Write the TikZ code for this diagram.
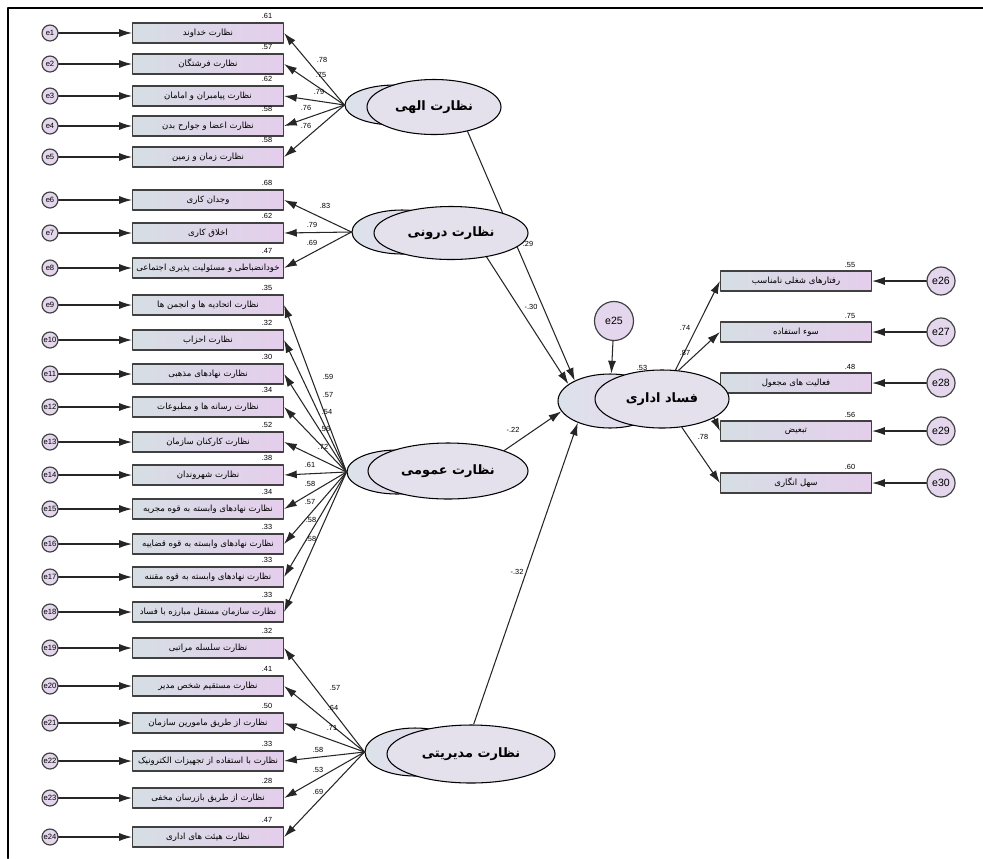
\documentclass[tikz,border=0pt]{standalone}
\usepackage{fontspec}
\setmainfont{Liberation Sans}
\newfontfamily\fa[Script=Arabic]{DejaVu Sans}
\TeXXeTstate=1
\usetikzlibrary{shapes.geometric, arrows.meta, backgrounds}

\definecolor{boxl}{RGB}{214,222,228}
\definecolor{boxr}{RGB}{228,206,236}
\definecolor{errfill}{RGB}{228,214,236}
\definecolor{latfill}{RGB}{228,224,236}
\definecolor{backl}{RGB}{220,226,234}
\definecolor{backr}{RGB}{232,216,238}

\tikzset{
  obs/.style = {rectangle, draw = black!75, line width = 1pt, left color = boxl, right color = boxr,
    minimum width = 4.53cm, minimum height = 0.6cm, inner sep = 0pt, font = \fa\fontsize{7.3}{8}\selectfont},
  errl/.style = {circle, draw = black!75, line width = 1pt, fill = errfill, minimum size = 0.48cm,
    inner sep = 0pt, font = \fontsize{6.5}{7}\selectfont},
  errr/.style = {errl, minimum size = 0.84cm, font = \fontsize{9}{10}\selectfont},
  val/.style = {inner sep = 0pt, font = \fontsize{6.3}{7}\selectfont},
  lat/.style = {ellipse, draw, line width = 0.9pt, fill = latfill, inner sep = 0pt,
    font = \fa\bfseries\fontsize{11}{12}\selectfont},
  latback/.style = {ellipse, draw, line width = 0.9pt, left color = backl, right color = backr, inner sep = 0pt},
  link/.style = {-{Latex[length = 3.8mm, width = 2.4mm]}, line width = 0.9pt, black!85}
}

% observed item on the left: number, y, text, r2
\newcommand{\indic}[4]{
  \node[obs] (x#1) at (208, #2) {#3};
  \node[val] at (267, #2 - 17) {#4};
  \node[errl] (e#1) at (50, #2) {e#1};
  \draw[link] (e#1) -- (x#1);
}
% observed item on the right: number, y, text, r2, error number
\newcommand{\indicr}[5]{
  \node[obs] (r#1) at (796, #2) {#3};
  \node[val] at (850, #2 - 16) {#4};
  \node[errr] (e#5) at (941, #2) {e#5};
  \draw[link] (e#5) -- (r#1);
}
% loading: factor, item, label position, value
\newcommand{\load}[4]{
  \draw[link] (#1.west) -- (x#2.east);
  \node[val] at (#3) {#4};
}

\begin{document}
\begin{tikzpicture}[x = 0.03cm, y = -0.03cm, line cap = round, line join = round]
  \useasboundingbox (0, 0) rectangle (983, 858);
  \draw[line width = 2.4pt] (8, 858) -- (8, 8) -- (983, 8);

  \indic{1}{33}{\beginR نظارت خداوند\endR}{.61}
  \indic{2}{64}{\beginR نظارت فرشتگان\endR}{.57}
  \indic{3}{96}{\beginR نظارت پیامبران و امامان\endR}{.62}
  \indic{4}{126}{\beginR نظارت اعضا و جوارح بدن\endR}{.58}
  \indic{5}{157}{\beginR نظارت زمان و زمین\endR}{.58}
  \indic{6}{200}{\beginR وجدان کاری\endR}{.68}
  \indic{7}{233}{\beginR اخلاق کاری\endR}{.62}
  \indic{8}{268}{\beginR خودانضباطی و مسئولیت پذیری اجتماعی\endR}{.47}
  \indic{9}{305}{\beginR نظارت اتحادیه ها و انجمن ها\endR}{.35}
  \indic{10}{340}{\beginR نظارت احزاب\endR}{.32}
  \indic{11}{374}{\beginR نظارت نهادهای مذهبی\endR}{.30}
  \indic{12}{407}{\beginR نظارت رسانه ها و مطبوعات\endR}{.34}
  \indic{13}{442}{\beginR نظارت کارکنان سازمان\endR}{.52}
  \indic{14}{475}{\beginR نظارت شهروندان\endR}{.38}
  \indic{15}{509}{\beginR نظارت نهادهای وابسته به قوه مجریه\endR}{.34}
  \indic{16}{544}{\beginR نظارت نهادهای وابسته به قوه قضاییه\endR}{.33}
  \indic{17}{577}{\beginR نظارت نهادهای وابسته به قوه مقننه\endR}{.33}
  \indic{18}{612}{\beginR نظارت سازمان مستقل مبارزه با فساد\endR}{.33}
  \indic{19}{648}{\beginR نظارت سلسله مراتبی\endR}{.32}
  \indic{20}{686}{\beginR نظارت مستقیم شخص مدیر\endR}{.41}
  \indic{21}{723}{\beginR نظارت از طریق مامورین سازمان\endR}{.50}
  \indic{22}{761}{\beginR نظارت با استفاده از تجهیزات الکترونیک\endR}{.33}
  \indic{23}{798}{\beginR نظارت از طریق بازرسان مخفی\endR}{.28}
  \indic{24}{837}{\beginR نظارت هیئت های اداری\endR}{.47}

  \indicr{1}{281}{\beginR رفتارهای شغلی نامناسب\endR}{.55}{26}
  \indicr{2}{332}{\beginR سوء استفاده\endR}{.75}{27}
  \indicr{3}{383}{\beginR فعالیت های مجعول\endR}{.48}{28}
  \indicr{4}{431}{\beginR تبعیض\endR}{.56}{29}
  \indicr{5}{483}{\beginR سهل انگاری\endR}{.60}{30}

  % latent variables
  \node[latback, minimum width = 3cm, minimum height = 1.2cm] (ilahib) at (395, 105) {};
  \node[lat, minimum width = 4.02cm, minimum height = 1.65cm] (ilahi) at (434, 107) {\beginR نظارت الهی\endR};
  \node[latback, minimum width = 3cm, minimum height = 1.32cm] (doronib) at (402, 232) {};
  \node[lat, minimum width = 4.62cm, minimum height = 1.59cm] (doroni) at (451, 233) {\beginR نظارت درونی\endR};
  \node[latback, minimum width = 3cm, minimum height = 1.32cm] (omumib) at (397, 472) {};
  \node[lat, minimum width = 4.8cm, minimum height = 1.68cm] (omumi) at (448, 471) {\beginR نظارت عمومی\endR};
  \node[latback, minimum width = 3cm, minimum height = 1.44cm] (modiriatib) at (415, 752) {};
  \node[lat, minimum width = 5.04cm, minimum height = 1.74cm] (modiriati) at (471, 754) {\beginR نظارت مدیریتی\endR};
  \node[latback, minimum width = 3.12cm, minimum height = 1.62cm] (fasadb) at (610, 401) {};
  \node[lat, minimum width = 4.02cm, minimum height = 1.74cm] (fasad) at (662, 399) {\beginR فساد اداری\endR};
  \node[errr, minimum width = 1.02cm, minimum height = 1.17cm] (e25) at (614, 321) {e25};

  \load{ilahib}{1}{322, 60}{.78}
  \load{ilahib}{2}{321, 75}{.75}
  \load{ilahib}{3}{319, 92}{.79}
  \load{ilahib}{4}{306, 108}{.76}
  \load{ilahib}{5}{306, 126}{.76}
  \load{doronib}{6}{325, 206}{.83}
  \load{doronib}{7}{312, 225}{.79}
  \load{doronib}{8}{312, 243}{.69}
  \load{omumib}{9}{328, 377}{.59}
  \load{omumib}{10}{328, 395}{.57}
  \load{omumib}{11}{327, 412}{.54}
  \load{omumib}{12}{325, 429}{.56}
  \load{omumib}{13}{323, 447}{.72}
  \load{omumib}{14}{310, 465}{.61}
  \load{omumib}{15}{310, 484}{.58}
  \load{omumib}{16}{310, 502}{.57}
  \load{omumib}{17}{311, 520}{.58}
  \load{omumib}{18}{311, 539}{.58}
  \load{modiriatib}{19}{335, 688}{.57}
  \load{modiriatib}{20}{333, 708}{.64}
  \load{modiriatib}{21}{332, 728}{.71}
  \load{modiriatib}{22}{318, 750}{.58}
  \load{modiriatib}{23}{318, 770}{.53}
  \load{modiriatib}{24}{318, 792}{.69}

  \begin{scope}[on background layer]
    \draw[link] (ilahi.-36) -- (fasadb.150);
    \draw[link] (doroni.-34) -- (fasadb.158);
    \draw[link] (omumi.20) -- (fasadb.192);
    \draw[link] (modiriati.85) -- (fasadb.214);
    \draw[link] (e25) -- (fasadb);
    \draw[link] (fasad.65) -- (r1.west);
    \draw[link] (fasad.60) -- (r2.west);
    \draw[link] (fasad.-20) -- (r4.west);
    \draw[link] (fasad.-55) -- (r5.west);
  \end{scope}

  \node[val] at (528, 244) {.29};
  \node[val] at (531, 307) {-.30};
  \node[val] at (513, 430) {-.22};
  \node[val] at (517, 572) {-.32};
  \node[val] at (642, 368) {.53};
  \node[val] at (685, 328) {.74};
  \node[val] at (685, 353) {.87};
  \node[val] at (703, 437) {.78};
\end{tikzpicture}
\end{document}
